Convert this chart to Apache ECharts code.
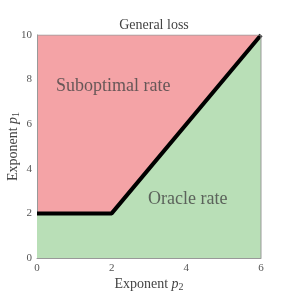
<!DOCTYPE html>
<html><head><meta charset="utf-8">
<script src="https://cdn.jsdelivr.net/npm/echarts@6/dist/echarts.min.js"></script>
<style>html,body{margin:0;padding:0;background:#fff}#c{width:291px;height:291px}</style>
</head><body><div id="c"></div>
<script>
const boundaryX = [0, 2, 6];
const boundaryY = [2, 2, 10];
const xTicks = [0, 2, 4, 6];
const yTicks = [0, 2, 4, 6, 8, 10];
const regionLabels = ['Suboptimal rate', 'Oracle rate'];
const regionLabelX = [2.04, 4.04];
const regionLabelY = [7.7, 2.62];

const F = 'Liberation Serif';
const chart = echarts.init(document.getElementById('c'), null, {renderer: 'canvas'});
const rich = {
  n: {fontFamily: F, fontSize: 14, color: '#444', lineHeight: 16},
  i: {fontFamily: F, fontSize: 14, fontStyle: 'italic', color: '#444', lineHeight: 16},
  s: {fontFamily: F, fontSize: 10, color: '#444', lineHeight: 16, verticalAlign: 'bottom'}
};
chart.setOption({
  animation: false,
  title: {text: 'General loss', left: 149, top: 13, textAlign: 'center',
    textStyle: {fontFamily: F, fontSize: 14, fontWeight: 'normal', color: '#444'}},
  grid: {left: 37, right: 30, top: 35, bottom: 33, show: true, backgroundColor: '#f4a3a6', borderWidth: 0,
    containLabel: false, outerBoundsMode: 'none'},
  xAxis: {type: 'value', min: 0, max: 6, interval: 2,
    name: '{n|Exponent }{i|p}{s|2}', nameLocation: 'middle', nameGap: 18, nameMoveOverlap: false,
    nameTextStyle: {rich, verticalAlign: 'top'},
    axisLine: {show: true, lineStyle: {color: '#999', width: 1}}, axisTick: {show: false},
    splitLine: {show: false},
    axisLabel: {fontFamily: F, fontSize: 11, color: '#555', margin: 5,
      formatter: v => xTicks.includes(v) ? String(v) : ''}},
  yAxis: {type: 'value', min: 0, max: 10, interval: 2,
    name: '{n|Exponent }{i|p}{s|1}', nameLocation: 'middle', nameGap: 16, nameRotate: 90, nameMoveOverlap: false,
    nameTextStyle: {rich, verticalAlign: 'bottom'},
    axisLine: {show: true, lineStyle: {color: '#999', width: 1}}, axisTick: {show: false},
    splitLine: {show: false},
    axisLabel: {fontFamily: F, fontSize: 11, color: '#555', margin: 5,
      formatter: v => yTicks.includes(v) ? String(v) : ''}},
  series: [
    {type: 'line', data: boundaryX.map((x, k) => [x, boundaryY[k]]), symbol: 'none',
      lineStyle: {color: '#000', width: 4}, areaStyle: {color: '#b9dfb7', opacity: 1, origin: 'start'}, z: 3},
    {type: 'line', data: [[0, 10], [6, 10]], symbol: 'none', lineStyle: {color: '#999', width: 1}, z: 4},
    {type: 'line', data: [[6, 0], [6, 10]], symbol: 'none', lineStyle: {color: '#999', width: 1}, z: 4},
    {type: 'scatter', symbolSize: 0, z: 5,
      data: regionLabels.map((t, k) => ({value: [regionLabelX[k], regionLabelY[k]], name: t})),
      label: {show: true, position: 'inside', formatter: p => p.name,
        fontFamily: F, fontSize: 18, color: '#444'}}
  ]
});
</script></body></html>
